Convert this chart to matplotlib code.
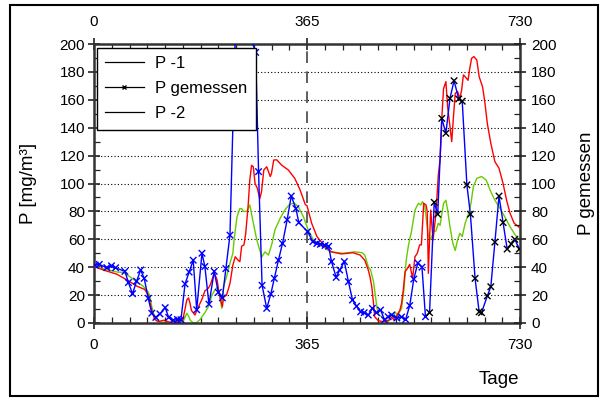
import matplotlib
matplotlib.use('Agg')
import matplotlib.pyplot as plt
from matplotlib.patches import Rectangle
from matplotlib.lines import Line2D
import numpy as np

plt.rcParams['font.family'] = ['Liberation Sans', 'DejaVu Sans']

# measured values (P gemessen)
mess_tag = [2, 9, 22, 30, 37, 53, 59, 66, 73, 80, 86, 93, 99, 106, 113, 122, 128, 136, 143, 149,
            156, 163, 170, 176, 185, 190, 197, 206, 213, 220, 226, 233, 244, 277, 282, 288, 296,
            303, 309, 316, 323, 331, 338, 346, 351, 366, 375, 382, 388, 396, 402, 407, 415, 421,
            429, 436, 443, 450, 457, 463, 470, 477, 484, 491, 498, 504, 510, 519, 527, 534, 541,
            548, 555, 562, 568, 575, 583, 589, 596, 603, 610, 617, 625, 631, 639, 645, 653, 660,
            664, 674, 680, 687, 694, 701, 708, 715, 721, 729]
mess_wert = [41.5, 42, 39.7, 41, 39.6, 37, 29, 21, 30, 38, 32, 17.7, 7, 4, 6.5, 11, 4, 2, 2.5, 2.3,
             28, 36.5, 45, 9.5, 50, 40.5, 13.5, 37, 22, 18, 39, 63, 236, 194, 108.5, 27, 10.5,
             20.8, 32, 45, 57, 74, 91, 82, 72, 65.5, 58.3, 57, 56.4, 55.6, 55, 44, 32.7, 38,
             44, 29.6, 16.5, 12, 8, 7.4, 5.7, 10.5, 7.4, 9.3, 2.2, 4.5, 5.7, 3.6, 4.3, 2.5, 12.5,
             31.5, 43, 40, 4.5, 7.4, 86.5, 78, 146.7, 136, 161, 173.7, 160.6, 159, 99, 78, 32, 8,
             7.4, 19.4, 26, 58, 91, 72, 53, 56.6, 60, 53]

# model P -1 (red)
p1_tag = [0, 16, 39, 56, 73, 87, 93, 99, 104, 110, 120, 130, 140, 152, 156, 159, 162, 164, 167,
          173, 179, 185, 190, 196, 199, 203, 206, 209, 211, 214, 217, 220, 222, 227, 230, 233, 238,
          242, 245, 247, 250, 253, 257, 260, 264, 267, 270, 273, 276, 280, 284, 287, 291, 296, 299,
          302, 304, 308, 313, 322, 333, 344, 353, 362, 365, 370, 373, 382, 396, 407, 424, 444, 456,
          464, 470, 473, 476, 479, 481, 487, 495, 505, 510, 515, 521, 524, 527, 530, 533, 537, 541,
          546, 550, 554, 558, 561, 565, 569, 571, 573, 575, 577, 581, 586, 590, 593, 596, 599, 603,
          606, 610, 613, 616, 619, 623, 627, 630, 633, 635, 641, 644, 647, 651, 656, 660, 666, 670,
          674, 680, 687, 694, 701, 707, 713, 720, 729]
p1_wert = [40.5, 38, 35, 31, 26.5, 24, 20, 9, 2.6, 1, 2, 0.5, 1, 2, 10, 16.5, 18, 15, 9,
           5.7, 11.7, 17, 23, 25, 27, 32, 35.6, 33, 30.8, 22, 16.5, 11.7, 18.4, 20, 24, 28.4, 41.6,
           47.5, 46, 45, 44, 55, 56, 64.3, 83.4, 102.5, 113, 112, 100, 96.5, 89, 94, 109.7, 112, 108.5,
           105, 107, 116.8, 117, 113, 109.7, 103.7, 95.5, 85, 84, 76, 71.5, 62, 54.7, 51, 49.5, 50.4, 48.7,
           45, 38, 33, 26, 14, 4.5, 1.7, 1, 2, 4, 2, 7, 9, 14, 23.6, 36.8, 39, 42,
           32, 47.5, 50, 56, 56, 85.8, 84.6, 80, 35.6, 60, 81, 59.5, 78.6, 106, 117, 146.7, 168, 173,
           155, 140.7, 130, 148, 164.6, 166, 161, 167, 177.8, 177, 174, 182.6, 189.7, 191, 188.5, 176.6, 169, 157.5,
           143, 128.8, 115.6, 111, 100, 88, 78.6, 71.5, 68.5]

# model P -2 (green)
p2_tag = [0, 20, 40, 50, 62, 75, 84, 90, 93, 96, 99, 102, 105, 108, 115, 130, 145, 152, 156, 159,
          162, 165, 170, 176, 182, 186, 190, 196, 202, 207, 212, 216, 219, 222, 227, 233, 238, 240,
          245, 250, 253, 256, 262, 267, 272, 279, 285, 287, 293, 299, 305, 310, 319, 327, 335, 343,
          350, 359, 367, 376, 393, 405, 427, 447, 459, 464, 470, 474, 479, 482, 485, 488, 493, 500,
          504, 510, 516, 520, 527, 531, 535, 539, 544, 550, 556, 560, 563, 567, 573, 577, 582, 586,
          590, 593, 599, 603, 606, 610, 615, 619, 623, 627, 631, 636, 642, 646, 650, 656, 664, 672,
          679, 687, 696, 704, 713, 722, 729]
p2_wert = [40.5, 38.5, 36.5, 36.3, 33, 29, 26.5, 23.7, 22, 19, 11.7, 7, 3, 1.5, 0.5, 0.5, 0.5, 1, 4, 7,
           5, 2, 0, 0.3, 2.6, 5, 7.4, 11.7, 20, 23.6, 26, 18, 10.5, 26, 33, 42.8, 50, 59.5,
           76, 82, 82, 80, 80, 84.6, 73.8, 59.5, 51, 47, 51, 48.7, 57, 66.7, 75, 81, 85, 86,
           83.4, 76, 66.7, 59.5, 54.7, 51, 50, 51, 50.4, 48.7, 40.4, 38, 29.6, 20, 10.5, 6, 4.5, 0.5,
           1, 4, 8, 5, 10.5, 23.6, 45, 56, 65.5, 81, 85.8, 84.6, 87, 83.4, 62, 60, 65.5, 66,
           71.5, 70, 85.8, 88, 81, 69, 57, 52, 59.5, 64.3, 62, 71.5, 78.6, 85.8, 97.7, 103.7, 105, 102.5,
           95, 88, 82, 76, 69, 63, 59.5]

x_ticks = [0, 365, 730]
y_ticks = list(range(0, 201, 20))

fig = plt.figure(figsize=(6.01, 4.01), dpi=100)
fig.patches.append(Rectangle((10 / 601, 5 / 401), 588 / 601, 391 / 401, transform=fig.transFigure,
                             fill=False, edgecolor='black', linewidth=1.5))

ax = fig.add_axes([94 / 601, 78 / 401, 426 / 601, 279 / 401])
ax.set_xlim(0, 730)
ax.set_ylim(0, 200)

# grid
for y in y_ticks[1:-1]:
    ax.axhline(y, color='black', linestyle=(0, (1, 2)), linewidth=0.8, zorder=1)
ax.axvline(365, color='#444444', linestyle=(0, (7, 5)), linewidth=1.2, zorder=1)

ax.plot(p2_tag, p2_wert, color='#66cc00', linewidth=1.0, zorder=2)
ax.plot(p1_tag, p1_wert, color='#ff0000', linewidth=1.0, zorder=3)
ax.plot(mess_tag, mess_wert, color='#0000ff', linewidth=1.0, zorder=4)
mc = ['#0000ff' if t < 572 else 'black' for t in mess_tag]
ax.scatter(mess_tag, mess_wert, marker='x', s=22, c=mc, linewidths=1.0, zorder=5, clip_on=True)

ax.set_xticks(x_ticks)
ax.set_xticks(np.arange(0, 731, 365 / 12), minor=True)
ax.set_yticks(y_ticks)
ax.set_yticks(range(0, 201, 10), minor=True)
ax.tick_params(which='major', direction='inout', length=9, width=1.2, top=True, right=True,
               labeltop=True, labelsize=11, colors='#222222', pad=2)
ax.tick_params(which='minor', direction='in', length=4, width=0.9, top=True, right=True,
               colors='#222222')
ax.tick_params(axis='x', which='major', pad=6)
for s in ax.spines.values():
    s.set_linewidth(1.8)
    s.set_color('#333333')
for lab in ax.get_xticklabels() + ax.get_yticklabels():
    lab.set_color('black')

ax.set_ylabel('P [mg/m³]', fontsize=13.5)
ax.yaxis.set_label_coords(-0.134, 0.5)

ax2 = ax.twinx()
ax2.set_ylim(0, 200)
ax2.set_yticks(y_ticks)
ax2.set_yticks(range(0, 201, 10), minor=True)
ax2.tick_params(which='major', direction='inout', length=9, width=1.2, labelsize=11, colors='#222222')
ax2.tick_params(which='minor', direction='in', length=4, width=0.9, colors='#222222')
for lab in ax2.get_yticklabels():
    lab.set_color('black')
for s in ax2.spines.values():
    s.set_visible(False)
ax2.set_ylabel('P gemessen', fontsize=13.5)
ax2.yaxis.set_label_coords(1.136, 0.5)

fig.text(499 / 601, (401 - 380) / 401, 'Tage', fontsize=13.5, ha='center', va='center')

handles = [Line2D([], [], color='black', linewidth=0.9),
           Line2D([], [], color='black', linewidth=0.9, marker='x', markersize=3.5),
           Line2D([], [], color='black', linewidth=0.9)]
leg = ax.legend(handles, ['P -1', 'P gemessen', 'P -2'], loc='upper left',
                bbox_to_anchor=(0.007, 0.986), fontsize=12, frameon=True, fancybox=False,
                framealpha=1, edgecolor='black', handlelength=2.3, borderpad=0.5,
                labelspacing=0.6, handletextpad=0.7, borderaxespad=0)
leg.get_frame().set_linewidth(1.0)
leg.set_zorder(10)

fig.savefig('out.png', dpi=100)
